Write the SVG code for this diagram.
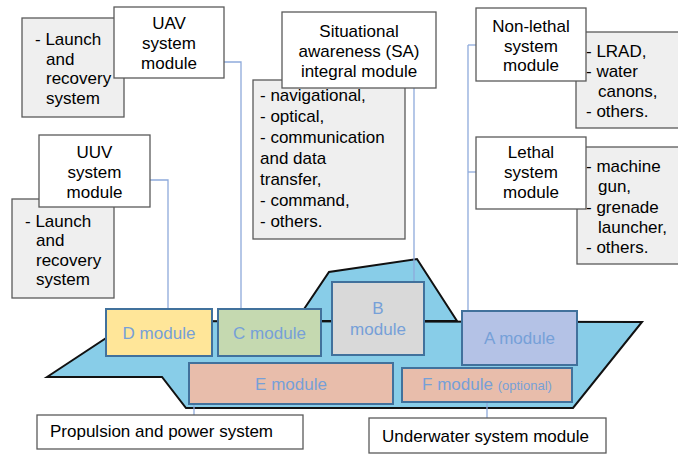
<svg xmlns="http://www.w3.org/2000/svg" width="678" height="454" viewBox="0 0 678 454">
  <style>
    text { font-family: "Liberation Sans", Arial, sans-serif; font-size: 17px; fill: #000; }
    .c { text-anchor: middle; }
    .box { fill: #ffffff; stroke: #5a5a5a; stroke-width: 1.3; }
    .note { fill: #efefef; stroke: #5a5a5a; stroke-width: 1.3; }
    .hull { fill: #88cde8; stroke: #111; stroke-width: 2; stroke-linejoin: miter; }
    .mod { stroke: #41719c; stroke-width: 2; }
    .mt { fill: #76a0d8; text-anchor: middle; }
    .link { fill: none; stroke: #8eaadb; stroke-width: 1.3; }
  </style>

  <!-- vessel: superstructure behind the hull -->
  <g id="vessel">
    <polygon class="hull" points="296,321 329,272 417,259 457,321"/>
    <polygon class="hull" points="47,377 132,321 642,322 573,408 186,408 162,377"/>
  </g>

  <!-- connectors -->
  <g id="connectors">
    <polyline class="link" points="224,62 241,62 241,309"/>
    <polyline class="link" points="150,180 168,180 168,309"/>
    <line class="link" x1="414" y1="88" x2="414" y2="282"/>
    <line class="link" x1="468" y1="45" x2="468" y2="311"/>
    <line class="link" x1="468" y1="45" x2="476" y2="45"/>
    <line class="link" x1="468" y1="172" x2="476" y2="172"/>
    <line class="link" x1="194" y1="404" x2="194" y2="415"/>
    <line class="link" x1="487" y1="402" x2="487" y2="418"/>
  </g>

  <!-- modules on board -->
  <g id="d-module">
    <rect class="mod" x="106" y="309" width="106" height="47" fill="#ffe699"/>
    <text class="mt" x="159" y="339">D module</text>
  </g>
  <g id="c-module">
    <rect class="mod" x="218" y="309" width="103" height="47" fill="#c5d9b0"/>
    <text class="mt" x="269.5" y="339">C module</text>
  </g>
  <g id="b-module">
    <rect class="mod" x="332" y="282" width="92" height="73" fill="#d9d9d9"/>
    <text class="mt" x="378" y="314">B</text>
    <text class="mt" x="378" y="335">module</text>
  </g>
  <g id="a-module">
    <rect class="mod" x="462" y="311" width="115" height="54" fill="#b4c2e6"/>
    <text class="mt" x="519.5" y="344">A module</text>
  </g>
  <g id="e-module">
    <rect class="mod" x="189" y="363" width="204" height="41" fill="#e8bdab"/>
    <text class="mt" x="291" y="390">E module</text>
  </g>
  <g id="f-module">
    <rect class="mod" x="402" y="368" width="170" height="34" fill="#e8bdab"/>
    <text class="mt" x="487" y="390">F module <tspan font-size="13">(optional)</tspan></text>
  </g>

  <!-- UAV -->
  <g id="uav-notes">
    <rect class="note" x="22" y="18" width="102" height="99"/>
    <text x="35" y="45">- Launch</text>
    <text x="46" y="64.5">and</text>
    <text x="46" y="84">recovery</text>
    <text x="46" y="103.5">system</text>
  </g>
  <g id="uav">
    <rect class="box" x="114" y="7" width="110" height="71"/>
    <text class="c" x="169" y="29">UAV</text>
    <text class="c" x="169" y="49">system</text>
    <text class="c" x="169" y="69">module</text>
  </g>

  <!-- UUV -->
  <g id="uuv-notes">
    <rect class="note" x="12" y="199" width="102" height="99"/>
    <text x="25" y="227">- Launch</text>
    <text x="36" y="246">and</text>
    <text x="36" y="265.5">recovery</text>
    <text x="36" y="285">system</text>
  </g>
  <g id="uuv">
    <rect class="box" x="39" y="135" width="111" height="72"/>
    <text class="c" x="94.5" y="158">UUV</text>
    <text class="c" x="94.5" y="178">system</text>
    <text class="c" x="94.5" y="197.5">module</text>
  </g>

  <!-- Situational awareness -->
  <g id="sa-notes">
    <rect class="note" x="253" y="80" width="152" height="159"/>
    <text x="260" y="101">- navigational,</text>
    <text x="260" y="122">- optical,</text>
    <text x="260" y="143">- communication</text>
    <text x="260" y="164">and data</text>
    <text x="260" y="185">transfer,</text>
    <text x="260" y="206">- command,</text>
    <text x="260" y="227">- others.</text>
  </g>
  <g id="sa">
    <rect class="box" x="282" y="12" width="154" height="76"/>
    <text class="c" x="359" y="37">Situational</text>
    <text class="c" x="359" y="57">awareness (SA)</text>
    <text class="c" x="359" y="77">integral module</text>
  </g>

  <!-- Non-lethal -->
  <g id="non-lethal-notes">
    <rect class="note" x="576" y="32" width="106" height="96"/>
    <text x="586" y="57">- LRAD,</text>
    <text x="586" y="77">- water</text>
    <text x="598" y="97">canons,</text>
    <text x="586" y="117">- others.</text>
  </g>
  <g id="non-lethal">
    <rect class="box" x="476" y="8" width="110" height="73"/>
    <text class="c" x="531" y="32">Non-lethal</text>
    <text class="c" x="531" y="51.5">system</text>
    <text class="c" x="531" y="71">module</text>
  </g>

  <!-- Lethal -->
  <g id="lethal-notes">
    <rect class="note" x="577" y="147" width="105" height="117"/>
    <text x="586" y="172">- machine</text>
    <text x="598" y="192">gun,</text>
    <text x="586" y="212.5">- grenade</text>
    <text x="598" y="233">launcher,</text>
    <text x="586" y="253">- others.</text>
  </g>
  <g id="lethal">
    <rect class="box" x="476" y="137" width="110" height="72"/>
    <text class="c" x="531" y="158">Lethal</text>
    <text class="c" x="531" y="178">system</text>
    <text class="c" x="531" y="197.5">module</text>
  </g>

  <!-- lower systems -->
  <g id="propulsion">
    <rect class="box" x="37" y="415" width="266" height="34"/>
    <text x="50" y="437">Propulsion and power system</text>
  </g>
  <g id="underwater">
    <rect class="box" x="369" y="418" width="237" height="35"/>
    <text x="382" y="442">Underwater system module</text>
  </g>
</svg>
